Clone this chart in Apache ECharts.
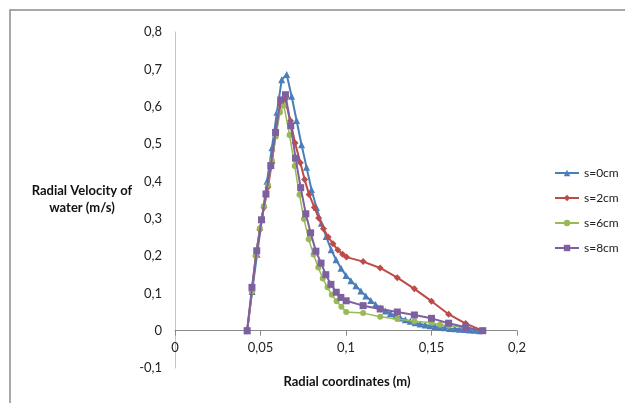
<!DOCTYPE html>
<html>
<head>
<meta charset="utf-8">
<script src="https://cdn.jsdelivr.net/npm/echarts@6/dist/echarts.min.js"></script>
<style>
  html, body { margin: 0; padding: 0; background: #ffffff; }
  #chart { width: 625px; height: 403px; }
</style>
</head>
<body>
<div id="chart"></div>
<script>
// Radial velocity profiles of water for four slot positions s
const seriesNames = ['s=0cm', 's=2cm', 's=6cm', 's=8cm'];

const x0 = [0.0422, 0.0451, 0.048, 0.0509, 0.0538, 0.0567, 0.0596, 0.0624, 0.0653, 0.0682,
            0.0711, 0.074, 0.0769, 0.0798, 0.0827, 0.0856, 0.0884, 0.0913, 0.0942, 0.0971,
            0.1, 0.1029, 0.1058, 0.1087, 0.1116, 0.1145, 0.1173, 0.1202, 0.1231, 0.126,
            0.1289, 0.1318, 0.1347, 0.1376, 0.1405, 0.1434, 0.1463, 0.1492, 0.1521, 0.155,
            0.1578, 0.1607, 0.1636, 0.1665, 0.1694, 0.1723, 0.1752, 0.178];
const y0 = [0, 0.105, 0.205, 0.3, 0.4, 0.49, 0.585, 0.672, 0.686, 0.628,
            0.563, 0.498, 0.438, 0.378, 0.33, 0.288, 0.252, 0.217, 0.19, 0.167,
            0.148, 0.134, 0.12, 0.106, 0.093, 0.081, 0.07, 0.061, 0.053, 0.046,
            0.04, 0.034, 0.029, 0.025, 0.021, 0.018, 0.015, 0.013, 0.011, 0.009,
            0.008, 0.006, 0.005, 0.004, 0.003, 0.002, 0.001, 0];

const x2 = [0.0422, 0.045, 0.0472, 0.0496, 0.052, 0.0544, 0.0567, 0.059, 0.0617, 0.0644,
            0.0675, 0.0702, 0.0733, 0.0758, 0.0784, 0.0815, 0.084, 0.0868, 0.0896, 0.0924,
            0.0952, 0.098, 0.1003, 0.11, 0.12, 0.13, 0.14, 0.15, 0.16, 0.17, 0.18];
const y2 = [0, 0.105, 0.2, 0.27, 0.33, 0.385, 0.45, 0.535, 0.605, 0.62,
            0.562, 0.503, 0.45, 0.405, 0.365, 0.33, 0.302, 0.273, 0.251, 0.233,
            0.216, 0.205, 0.197, 0.185, 0.168, 0.142, 0.112, 0.079, 0.044, 0.019, 0];

const x6 = [0.0422, 0.045, 0.0472, 0.0496, 0.052, 0.0544, 0.0567, 0.059, 0.0614, 0.0637,
            0.067, 0.07, 0.0728, 0.0754, 0.0782, 0.081, 0.0838, 0.0864, 0.0892, 0.0917,
            0.0945, 0.0973, 0.1001, 0.11, 0.12, 0.13, 0.14, 0.15, 0.155, 0.16, 0.17, 0.18];
const y6 = [0, 0.105, 0.2, 0.274, 0.334, 0.39, 0.455, 0.52, 0.585, 0.603,
            0.524, 0.441, 0.364, 0.299, 0.245, 0.204, 0.169, 0.14, 0.116, 0.096,
            0.079, 0.064, 0.05, 0.047, 0.037, 0.031, 0.025, 0.021, 0.016, 0.013, 0.008, 0];

const x8 = [0.0422, 0.045, 0.0478, 0.0506, 0.0532, 0.056, 0.0588, 0.0618, 0.0646, 0.0677,
            0.0705, 0.0735, 0.0765, 0.0793, 0.0824, 0.0854, 0.0882, 0.0912, 0.0943, 0.097,
            0.1001, 0.11, 0.12, 0.13, 0.14, 0.15, 0.16, 0.17, 0.18];
const y8 = [0, 0.116, 0.214, 0.297, 0.366, 0.442, 0.531, 0.618, 0.632, 0.549,
            0.462, 0.383, 0.313, 0.262, 0.213, 0.181, 0.15, 0.124, 0.103, 0.089,
            0.08, 0.067, 0.058, 0.05, 0.042, 0.033, 0.02, 0.009, 0];

const xTicks = [0, 0.05, 0.1, 0.15, 0.2];
const yTicks = [-0.1, 0, 0.1, 0.2, 0.3, 0.4, 0.5, 0.6, 0.7, 0.8];

const xName = 'Radial coordinates (m)';
const yName = 'Radial Velocity of\nwater (m/s)';

const FONT = 'Lato, "Liberation Sans", sans-serif';
const pair = (xs, ys) => xs.map((x, i) => [x, ys[i]]);
const comma = v => String(parseFloat(Number(v).toFixed(3))).replace('.', ',');

const styles = [
  { color: '#4a7ebb', symbol: 'triangle', size: 7, width: 2 },
  { color: '#be4b48', symbol: 'diamond', size: 7, width: 2 },
  { color: '#98b954', symbol: 'circle', size: 6, width: 1.5 },
  { color: '#7d60a0', symbol: 'rect', size: 7, width: 2 }
];
const dataSets = [pair(x0, y0), pair(x2, y2), pair(x6, y6), pair(x8, y8)];

// plot box
const GRID = { left: 175, right: 108, top: 32, bottom: 35 };
const plotH = 403 - GRID.top - GRID.bottom;
const yMin = yTicks[0], yMax = yTicks[yTicks.length - 1];
// shift the x axis (line, ticks, labels) up to the y = 0 level
const zeroOffset = -plotH * (0 - yMin) / (yMax - yMin);

const chart = echarts.init(document.getElementById('chart'), null, { renderer: 'canvas' });

chart.setOption({
  animation: false,
  backgroundColor: '#ffffff',
  textStyle: { fontFamily: FONT },
  grid: GRID,
  legend: {
    orient: 'vertical',
    left: 549,
    top: 162,
    itemWidth: 24,
    itemHeight: 8,
    itemGap: 13,
    textStyle: { fontFamily: FONT, fontSize: 12, color: '#222' },
    data: seriesNames
  },
  xAxis: {
    type: 'value',
    min: xTicks[0],
    max: xTicks[xTicks.length - 1],
    interval: 0.05,
    offset: zeroOffset,
    axisLine: { onZero: false, lineStyle: { color: '#8a8a8a', width: 1 } },
    axisTick: { show: true, length: 5, lineStyle: { color: '#8a8a8a' } },
    axisLabel: { margin: 11, fontSize: 13, color: '#222', fontFamily: FONT, formatter: comma },
    splitLine: { show: false }
  },
  yAxis: {
    type: 'value',
    min: yMin,
    max: yMax,
    interval: 0.1,
    axisLine: { show: true, lineStyle: { color: '#c4c4c4', width: 1 } },
    axisTick: { show: false },
    axisLabel: { margin: 13, fontSize: 13, color: '#222', fontFamily: FONT, formatter: comma },
    splitLine: { show: false }
  },
  graphic: [
    {
      type: 'rect', silent: true, z: -1,
      shape: { x: 10, y: 10, width: 700, height: 500 },
      style: { fill: 'none', stroke: '#8c8c8c', lineWidth: 1.5 }
    },
    {
      type: 'text', x: 82, y: 182,
      style: {
        text: yName, textAlign: 'center', textVerticalAlign: 'top',
        font: 'bold 13px ' + FONT, fill: '#111', lineHeight: 17
      }
    },
    {
      type: 'text', x: 347, y: 382,
      style: {
        text: xName, textAlign: 'center', textVerticalAlign: 'middle',
        font: 'bold 13px ' + FONT, fill: '#111'
      }
    }
  ],
  series: seriesNames.map((name, i) => ({
    name,
    type: 'line',
    data: dataSets[i],
    symbol: styles[i].symbol,
    symbolSize: styles[i].size,
    showAllSymbol: true,
    clip: false,
    lineStyle: { color: styles[i].color, width: styles[i].width },
    itemStyle: { color: styles[i].color, borderWidth: 0 },
    z: 2 + i
  }))
});
</script>
</body>
</html>
